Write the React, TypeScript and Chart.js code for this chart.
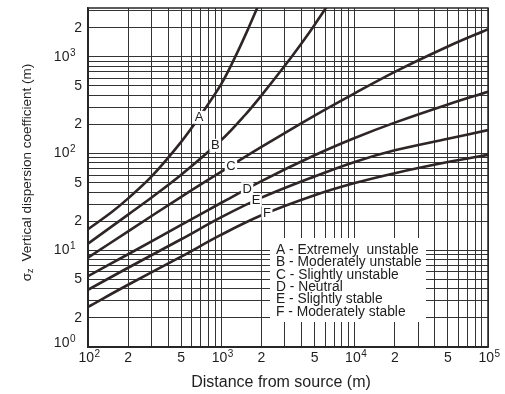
import React, { useEffect, useRef } from 'react';
import { Chart, registerables } from 'chart.js';

Chart.register(...registerables);

// ---- Data ----
const distA = [100, 150, 200, 300, 500, 700, 1000, 1300, 1600, 1900];
const sigmaA = [16.5, 24.7, 34.4, 58, 132, 250, 525, 1067, 1990, 3440];

const distB = [100, 200, 300, 500, 1000, 1500, 2000, 3000, 4000, 5000, 6500];
const sigmaB = [11.7, 23.4, 35.1, 60.3, 138, 249, 400, 813, 1384, 2140, 3660];

const distCF = [100, 200, 500, 1000, 2000, 5000, 10000, 20000, 50000, 100000];
const sigmaC = [8.4, 15.7, 35.7, 65, 117, 247, 420, 700, 1280, 1930];
const sigmaD = [5.4, 9.1, 18.3, 31, 52, 96, 145, 209, 322, 435];
const sigmaE = [3.9, 6.6, 13, 22, 35, 58, 82, 108, 142, 175];
const sigmaF = [2.6, 4.4, 8.6, 14.5, 23, 37, 49.5, 62.7, 81.7, 97];

const stabilityLetters = ['A', 'B', 'C', 'D', 'E', 'F'];
const stabilityNames = [
  'A - Extremely  unstable',
  'B - Moderately unstable',
  'C - Slightly unstable',
  'D - Neutral',
  'E - Slightly stable',
  'F - Moderately stable',
];
// distance along each curve where its letter is written
const labelDistances = [680, 900, 1180, 1560, 1820, 2200];

const xMin = 100;
const xMax = 100000;
const yMin = 1;
const yMax = 3200;

const xTitle = 'Distance from source (m)';
const yTitleSymbol = 'σ';
const yTitleSub = 'z';
const yTitleText = 'Vertical dispersion coefficient (m)';

function logGridValues(min: number, max: number): number[] {
  const out: number[] = [];
  for (let e = Math.floor(Math.log10(min)); e <= Math.ceil(Math.log10(max)); e++) {
    for (let m = 1; m <= 9; m++) {
      const v = m * Math.pow(10, e);
      if (v >= min - 1e-9 && v <= max + 1e-9) out.push(v);
    }
  }
  return out;
}

const xTickValues = logGridValues(xMin, xMax);
const yTickValues = logGridValues(yMin, yMax);

const FONT = '"Liberation Sans", Arial, Helvetica, sans-serif';
const GRID = '#333333';
const CURVE = '#2e2626';
const TEXT = '#1e1e1e';

// returns [base, exponent] for labelled ticks, null otherwise
function tickParts(value: number): [string, string] | null {
  const e = Math.floor(Math.log10(value) + 1e-9);
  const m = Math.round(value / Math.pow(10, e));
  if (m === 1) return ['10', String(e)];
  if (m === 2 || m === 5) return [String(m), ''];
  return null;
}

function logInterp(xs: number[], ys: number[], x: number): number {
  const lx = Math.log10(x);
  for (let i = 0; i < xs.length - 1; i++) {
    if (x >= xs[i] && x <= xs[i + 1]) {
      const a = Math.log10(xs[i]);
      const b = Math.log10(xs[i + 1]);
      const t = (lx - a) / (b - a);
      return Math.pow(10, Math.log10(ys[i]) + t * (Math.log10(ys[i + 1]) - Math.log10(ys[i])));
    }
  }
  return ys[ys.length - 1];
}

const series = [
  { x: distA, y: sigmaA },
  { x: distB, y: sigmaB },
  { x: distCF, y: sigmaC },
  { x: distCF, y: sigmaD },
  { x: distCF, y: sigmaE },
  { x: distCF, y: sigmaF },
];

function drawPowerLabel(ctx: any, base: string, exp: string, x: number, y: number, align: 'center' | 'right') {
  ctx.font = `14px ${FONT}`;
  const wb = ctx.measureText(base).width;
  ctx.font = `10px ${FONT}`;
  const we = exp ? ctx.measureText(exp).width : 0;
  const total = wb + we;
  const x0 = align === 'center' ? x - total / 2 : x - total;
  ctx.textAlign = 'left';
  ctx.textBaseline = 'middle';
  ctx.font = `14px ${FONT}`;
  ctx.fillText(base, x0, y);
  if (exp) {
    ctx.font = `10px ${FONT}`;
    ctx.fillText(exp, x0 + wb + 0.5, y - 4);
  }
}

const decorPlugin = {
  id: 'decor',
  beforeDatasetsDraw(chart: any) {
    const { ctx, chartArea } = chart;
    // legend box (white panel that interrupts the grid)
    const bx = chartArea.left + 182;
    const by = chartArea.top + 230;
    ctx.save();
    ctx.fillStyle = '#ffffff';
    ctx.fillRect(bx, by, 156, 84);
    ctx.fillStyle = TEXT;
    ctx.font = `13.8px ${FONT}`;
    ctx.textAlign = 'left';
    ctx.textBaseline = 'middle';
    stabilityNames.forEach((name, i) => {
      ctx.fillText(name, bx + 6, by + 12 + i * 12.4);
    });
    ctx.restore();
  },
  afterDatasetsDraw(chart: any) {
    const { ctx, chartArea, scales } = chart;
    const xs = scales.x;
    const ys = scales.y;
    ctx.save();
    ctx.font = `13px ${FONT}`;
    ctx.textAlign = 'center';
    ctx.textBaseline = 'middle';
    stabilityLetters.forEach((letter, i) => {
      const d = labelDistances[i];
      const s = logInterp(series[i].x, series[i].y, d);
      const px = xs.getPixelForValue(d);
      const py = ys.getPixelForValue(s);
      const w = ctx.measureText(letter).width + 3;
      ctx.fillStyle = '#ffffff';
      ctx.fillRect(px - w / 2, py - 6.5, w, 13);
      ctx.fillStyle = TEXT;
      ctx.fillText(letter, px, py + 0.5);
    });
    ctx.restore();

    // plot frame
    ctx.save();
    ctx.strokeStyle = '#262626';
    ctx.lineWidth = 1.5;
    ctx.strokeRect(chartArea.left, chartArea.top, chartArea.right - chartArea.left, chartArea.bottom - chartArea.top);
    ctx.restore();

    // tick labels
    ctx.save();
    ctx.fillStyle = TEXT;
    xTickValues.forEach((v) => {
      const p = tickParts(v);
      if (!p) return;
      drawPowerLabel(ctx, p[0], p[1], xs.getPixelForValue(v) + (p[1] ? 1 : 0), chartArea.bottom + 11, 'center');
    });
    yTickValues.forEach((v) => {
      const p = tickParts(v);
      if (!p) return;
      const py = ys.getPixelForValue(v) + (v === yMin ? -4 : 0);
      const right = p[1] ? chartArea.left - 13 : chartArea.left - 6;
      drawPowerLabel(ctx, p[0], p[1], right, py, 'right');
    });
    ctx.restore();

    // axis titles
    ctx.save();
    ctx.fillStyle = TEXT;
    ctx.textBaseline = 'middle';
    ctx.textAlign = 'center';
    ctx.font = `16px ${FONT}`;
    ctx.fillText(xTitle, (chartArea.left + chartArea.right) / 2 - 7, 383);

    ctx.translate(27, (chartArea.top + chartArea.bottom) / 2 - 5);
    ctx.rotate(-Math.PI / 2);
    ctx.textAlign = 'left';
    ctx.font = `13.5px ${FONT}`;
    const wSym = ctx.measureText(yTitleSymbol).width;
    const wMain = ctx.measureText(yTitleText).width;
    ctx.font = `9px ${FONT}`;
    const wSub = ctx.measureText(yTitleSub).width;
    const gap = 7;
    const total = wSym + wSub + gap + wMain;
    const x0 = -total / 2;
    ctx.font = `13.5px ${FONT}`;
    ctx.fillText(yTitleSymbol, x0, 0);
    ctx.font = `9px ${FONT}`;
    ctx.fillText(yTitleSub, x0 + wSym, 4);
    ctx.font = `13.5px ${FONT}`;
    ctx.fillText(yTitleText, x0 + wSym + wSub + gap, 0);
    ctx.restore();
  },
};

export default function App() {
  const canvasRef = useRef<HTMLCanvasElement | null>(null);

  useEffect(() => {
    if (!canvasRef.current) return;
    const chart = new Chart(canvasRef.current, {
      type: 'line',
      data: {
        datasets: series.map((s, i) => ({
          label: stabilityLetters[i],
          data: s.x.map((x, j) => ({ x, y: s.y[j] })),
          borderColor: CURVE,
          borderWidth: 2.6,
          pointRadius: 0,
          fill: false,
          tension: 0.35,
        })),
      },
      options: {
        responsive: false,
        maintainAspectRatio: false,
        animation: false,
        devicePixelRatio: 1,
        layout: { padding: { top: 8, right: 17, left: 0, bottom: 0 } },
        plugins: {
          legend: { display: false },
          tooltip: { enabled: false },
          title: { display: false },
        },
        scales: {
          x: {
            type: 'logarithmic',
            min: xMin,
            max: xMax,
            afterBuildTicks: (s: any) => {
              s.ticks = xTickValues.map((v) => ({ value: v }));
            },
            afterFit: (s: any) => {
              s.height = 47;
            },
            grid: { color: GRID, lineWidth: 1, drawTicks: false },
            border: { display: true, color: '#262626', width: 1.5 },
            ticks: { display: false, autoSkip: false },
          },
          y: {
            type: 'logarithmic',
            min: yMin,
            max: yMax,
            afterBuildTicks: (s: any) => {
              s.ticks = yTickValues.map((v) => ({ value: v }));
            },
            afterFit: (s: any) => {
              s.width = 88;
            },
            grid: { color: GRID, lineWidth: 1, drawTicks: false },
            border: { display: true, color: '#262626', width: 1.5 },
            ticks: { display: false, autoSkip: false },
          },
        },
      },
      plugins: [decorPlugin],
    });
    return () => chart.destroy();
  }, []);

  return (
    <div style={{ position: 'fixed', left: 0, top: 0, width: 505, height: 394, background: '#ffffff' }}>
      <canvas ref={canvasRef} width={505} height={394} style={{ display: 'block', width: 505, height: 394 }} />
    </div>
  );
}
